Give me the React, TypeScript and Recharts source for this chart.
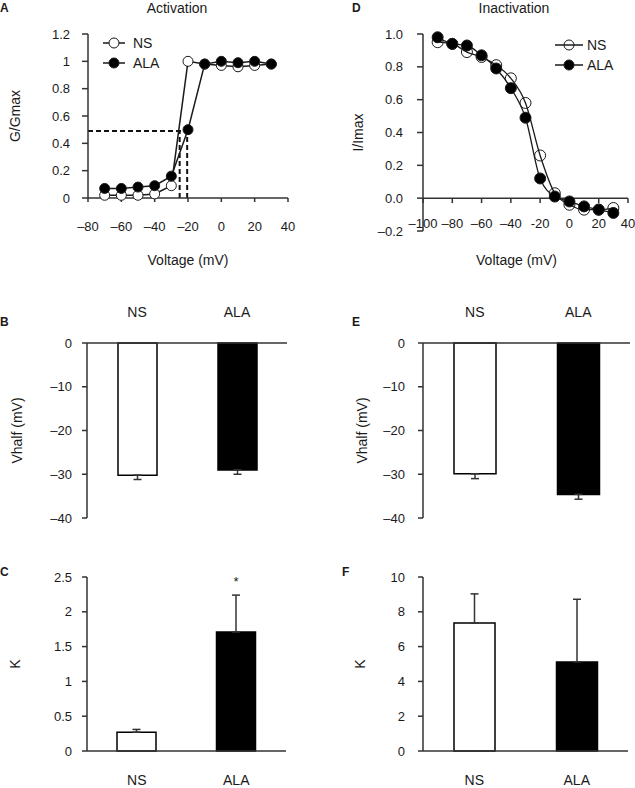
import React from "react"
import {
    LineChart, Line, BarChart, Bar, Cell, ErrorBar, LabelList,
    XAxis, YAxis, ReferenceLine, Legend,
} from "recharts"

const FONT = '"Liberation Sans", Arial, Helvetica, sans-serif'
const INK = "#1a1a1a"
const AXIS = "#333333"

// A: activation curve (G/Gmax)
const actVoltage = [-70, -60, -50, -40, -30, -20, -10, 0, 10, 20, 30]
const actNS = [0.02, 0.02, 0.02, 0.03, 0.09, 1.0, 0.98, 0.97, 0.96, 0.97, 0.98]
const actALA = [0.07, 0.07, 0.08, 0.09, 0.16, 0.5, 0.98, 1.0, 0.99, 1.0, 0.98]
const actXTicks = [-80, -60, -40, -20, 0, 20, 40]
const actYTicks = [0, 0.2, 0.4, 0.6, 0.8, 1, 1.2]
// half-activation guide lines
const actHalf = 0.49
const actHalfFrom = -80
const actVhalfNS = -25
const actVhalfALA = -20.5

// D: inactivation curve (I/Imax)
const inactVoltage = [-90, -80, -70, -60, -50, -40, -30, -20, -10, 0, 10, 20, 30]
const inactNS = [0.95, 0.94, 0.89, 0.86, 0.81, 0.73, 0.58, 0.26, 0.03, -0.04, -0.07, -0.07, -0.06]
const inactALA = [0.98, 0.94, 0.93, 0.87, 0.79, 0.67, 0.49, 0.12, 0.01, -0.02, -0.05, -0.07, -0.09]
const inactXTicks = [-100, -80, -60, -40, -20, 0, 20, 40]
const inactXLabels = ["\u2013100", "\u201380", "\u201360", "\u201340", "-20", "0", "20", "40"]
const inactYTicks = [-0.2, 0, 0.2, 0.4, 0.6, 0.8, 1.0]

// B, C, E, F: fitted parameters
const groups = ["NS", "ALA"]
const groupFill = ["#ffffff", "#000000"]
const vhalfAct = [-30.2, -29.0]
const vhalfActErr = [1.0, 1.0]
const kAct = [0.27, 1.71]
const kActErr = [0.04, 0.53]
const kActSig = ["", "*"]
const vhalfInact = [-29.9, -34.6]
const vhalfInactErr = [1.1, 1.1]
const kInact = [7.36, 5.12]
const kInactErr = [1.67, 3.6]

const vhalfTicks = [-40, -30, -20, -10, 0]
const kActTicks = [0, 0.5, 1, 1.5, 2, 2.5]
const kInactTicks = [0, 2, 4, 6, 8, 10]

const dash = (v: number) => (v < 0 ? "\u2013" + Math.abs(v) : String(v))

const actData = actVoltage.map((v, i) => ({ v, ns: actNS[i], ala: actALA[i] }))
const inactData = inactVoltage.map((v, i) => ({ v, ns: inactNS[i], ala: inactALA[i] }))

const barRows = (means: number[], errs: number[], sig?: string[]) =>
    groups.map((g, i) => ({
        g,
        val: means[i],
        err: means[i] < 0 ? [errs[i], 0] : [0, errs[i]],
        sig: sig ? sig[i] : "",
    }))

const tickStyle = { fill: INK, fontSize: 13 }

function CurveLegend({ payload, lineLen, fills, gap }: any) {
    // keep NS above ALA, as in the figure
    const items = [...(payload || [])].sort((a: any, b: any) => groups.indexOf(a.value) - groups.indexOf(b.value))
    return (
        <div style={{ fontFamily: FONT, fontSize: 14, color: INK }}>
            {items.map((p: any) => (
                <div key={p.value} style={{ display: "flex", alignItems: "center", height: 20 }}>
                    <svg width={lineLen} height={14}>
                        <line x1={0} y1={7} x2={lineLen} y2={7} stroke={INK} strokeWidth={1.5} />
                        <circle cx={lineLen / 2} cy={7} r={5} fill={fills[p.value]} stroke={INK} strokeWidth={1} />
                    </svg>
                    <span style={{ marginLeft: gap }}>{p.value}</span>
                </div>
            ))}
        </div>
    )
}

function InactTick({ x, y, payload }: any) {
    const label = inactXLabels[inactXTicks.indexOf(payload.value)]
    return (
        <text x={x} y={y - 8} dy="0.35em" textAnchor="middle" fontSize={13} fill={INK}>
            {label}
        </text>
    )
}

function ParamBars({ rows, domain, ticks, top, yLabel, labelOffset, yAxisWidth, tickMargin, barSize, width, height, margin, fmt }: any) {
    return (
        <BarChart width={width} height={height} data={rows} margin={margin}>
            <XAxis
                dataKey="g"
                orientation={top ? "top" : "bottom"}
                height={top ? 40 : 37}
                interval={0}
                tickLine={false}
                tickSize={0}
                tickMargin={top ? 26 : 24}
                tick={{ fill: INK, fontSize: 14 }}
                stroke={AXIS}
                strokeWidth={1.5}
            />
            <YAxis
                width={yAxisWidth}
                domain={domain}
                ticks={ticks}
                interval={0}
                tickFormatter={fmt}
                tickSize={5}
                tickMargin={tickMargin}
                tick={tickStyle}
                stroke={AXIS}
                strokeWidth={1.5}
                label={{ value: yLabel, angle: -90, position: "insideLeft", offset: labelOffset, fill: INK, fontSize: 14, style: { textAnchor: "middle" } }}
            />
            <Bar dataKey="val" barSize={barSize} stroke="#000" strokeWidth={1.5} isAnimationActive={false}>
                {rows.map((r: any, i: number) => (
                    <Cell key={r.g} fill={groupFill[i]} />
                ))}
                <ErrorBar dataKey="err" direction="y" width={4} stroke="#333" strokeWidth={1.5} isAnimationActive={false} />
                <LabelList dataKey="sig" position="top" offset={46} fill={INK} fontSize={13} />
            </Bar>
        </BarChart>
    )
}

const abs = (left: number, top: number): React.CSSProperties => ({ position: "absolute", left, top })

export default function App() {
    const letter = (t: string, left: number, top: number) => (
        <div style={{ ...abs(left, top), fontWeight: "bold", fontSize: 12, lineHeight: "14px" }}>{t}</div>
    )
    const title = (t: string, cx: number) => (
        <div style={{ ...abs(cx - 60, 0), width: 120, textAlign: "center", fontSize: 14, lineHeight: "16px" }}>{t}</div>
    )
    return (
        <div style={{ position: "absolute", left: 0, top: 0, width: 635, height: 788, background: "#fff", fontFamily: FONT, color: INK, overflow: "hidden" }}>
            {letter("A", 0, 1)}
            {letter("D", 352, 1)}
            {letter("B", 0, 315)}
            {letter("E", 352, 315)}
            {letter("C", 0, 565)}
            {letter("F", 342, 565)}
            {title("Activation", 177)}
            {title("Inactivation", 514)}

            {/* A */}
            <div style={abs(0, 0)}>
                <LineChart width={315} height={275} data={actData} margin={{ top: 34, right: 27, bottom: 7, left: 0 }}>
                    <XAxis
                        dataKey="v"
                        type="number"
                        domain={[-80, 40]}
                        ticks={actXTicks}
                        interval={0}
                        tickFormatter={dash}
                        height={70}
                        tickSize={4}
                        tickMargin={20}
                        tick={tickStyle}
                        stroke={AXIS}
                        strokeWidth={1.5}
                        label={{ value: "Voltage (mV)", position: "insideBottom", offset: 3, fill: INK, fontSize: 14 }}
                    />
                    <YAxis
                        width={88}
                        domain={[0, 1.2]}
                        ticks={actYTicks}
                        interval={0}
                        tickSize={6}
                        tickMargin={12}
                        tick={tickStyle}
                        stroke={AXIS}
                        strokeWidth={1.5}
                        label={{ value: "G/Gmax", angle: -90, position: "insideLeft", offset: 15, fill: INK, fontSize: 14, style: { textAnchor: "middle" } }}
                    />
                    <ReferenceLine segment={[{ x: actHalfFrom, y: actHalf }, { x: actVhalfALA, y: actHalf }]} stroke="#111" strokeWidth={2} strokeDasharray="5 3" />
                    <ReferenceLine segment={[{ x: actVhalfNS, y: 0 }, { x: actVhalfNS, y: actHalf }]} stroke="#111" strokeWidth={2} strokeDasharray="5 3" />
                    <ReferenceLine segment={[{ x: actVhalfALA, y: 0 }, { x: actVhalfALA, y: actHalf }]} stroke="#111" strokeWidth={2} strokeDasharray="5 3" />
                    <Line dataKey="ns" name="NS" stroke={INK} strokeWidth={1.5} dot={{ r: 5, fill: "#fff", stroke: INK, strokeWidth: 1 }} activeDot={false} isAnimationActive={false} />
                    <Line dataKey="ala" name="ALA" stroke={INK} strokeWidth={1.5} dot={{ r: 5, fill: "#000", stroke: INK, strokeWidth: 1 }} activeDot={false} isAnimationActive={false} />
                    <Legend
                        layout="vertical"
                        align="center"
                        verticalAlign="middle"
                        wrapperStyle={{ left: 103, top: 33, width: "auto" }}
                        content={<CurveLegend lineLen={22} gap={8} fills={{ NS: "#fff", ALA: "#000" }} />}
                    />
                </LineChart>
            </div>

            {/* D */}
            <div style={abs(315, 0)}>
                <LineChart width={320} height={275} data={inactData} margin={{ top: 34, right: 7, bottom: 7, left: 0 }}>
                    <XAxis
                        dataKey="v"
                        type="number"
                        domain={[-100, 40]}
                        ticks={inactXTicks}
                        interval={0}
                        height={37}
                        axisLine={false}
                        tickLine={false}
                        tickSize={0}
                        tickMargin={0}
                        tick={<InactTick />}
                        label={{ value: "Voltage (mV)", position: "insideBottom", offset: 3, dx: -9, fill: INK, fontSize: 14 }}
                    />
                    <YAxis
                        width={108}
                        domain={[-0.2, 1.0]}
                        ticks={inactYTicks}
                        interval={0}
                        tickFormatter={(v: number) => (v < 0 ? "\u2013" + Math.abs(v).toFixed(1) : v.toFixed(1))}
                        tickSize={6}
                        tickMargin={14}
                        tick={tickStyle}
                        stroke={AXIS}
                        strokeWidth={1.5}
                        label={{ value: "I/Imax", angle: -90, position: "insideLeft", offset: 43, fill: INK, fontSize: 14, style: { textAnchor: "middle" } }}
                    />
                    <ReferenceLine y={0} stroke={AXIS} strokeWidth={1.5} />
                    {inactXTicks.map((t) => (
                        <ReferenceLine key={t} segment={[{ x: t, y: 0 }, { x: t, y: -0.03 }]} stroke={AXIS} strokeWidth={1.5} />
                    ))}
                    <Line type="monotone" dataKey="ns" name="NS" stroke={INK} strokeWidth={1.3} dot={{ r: 5.5, fill: "none", stroke: INK, strokeWidth: 1 }} activeDot={false} isAnimationActive={false} />
                    <Line type="monotone" dataKey="ala" name="ALA" stroke={INK} strokeWidth={1.3} dot={{ r: 5.5, fill: "#000", stroke: INK, strokeWidth: 1 }} activeDot={false} isAnimationActive={false} />
                    <Legend
                        layout="vertical"
                        align="center"
                        verticalAlign="middle"
                        wrapperStyle={{ left: 240, top: 35, width: "auto" }}
                        content={<CurveLegend lineLen={28} gap={4} fills={{ NS: "none", ALA: "#000" }} />}
                    />
                </LineChart>
            </div>

            {/* B */}
            <div style={abs(0, 290)}>
                <ParamBars
                    rows={barRows(vhalfAct, vhalfActErr)}
                    domain={[-40, 0]} ticks={vhalfTicks} fmt={dash} top
                    yLabel="Vhalf (mV)" labelOffset={17} yAxisWidth={87} tickMargin={10} barSize={39}
                    width={315} height={240} margin={{ top: 13, right: 28, bottom: 12, left: 0 }}
                />
            </div>

            {/* E */}
            <div style={abs(315, 290)}>
                <ParamBars
                    rows={barRows(vhalfInact, vhalfInactErr)}
                    domain={[-40, 0]} ticks={vhalfTicks} fmt={dash} top
                    yLabel="Vhalf (mV)" labelOffset={47} yAxisWidth={108} tickMargin={13} barSize={42}
                    width={320} height={240} margin={{ top: 13, right: 5, bottom: 12, left: 0 }}
                />
            </div>

            {/* C */}
            <div style={abs(0, 560)}>
                <ParamBars
                    rows={barRows(kAct, kActErr, kActSig)}
                    domain={[0, 2.5]} ticks={kActTicks} fmt={String} top={false}
                    yLabel="K" labelOffset={15} yAxisWidth={87} tickMargin={10} barSize={39}
                    width={315} height={228} margin={{ top: 17, right: 29, bottom: 0, left: 0 }}
                />
            </div>

            {/* F */}
            <div style={abs(315, 560)}>
                <ParamBars
                    rows={barRows(kInact, kInactErr)}
                    domain={[0, 10]} ticks={kInactTicks} fmt={String} top={false}
                    yLabel="K" labelOffset={45} yAxisWidth={108} tickMargin={13} barSize={41}
                    width={320} height={228} margin={{ top: 17, right: 7, bottom: 0, left: 0 }}
                />
            </div>
        </div>
    )
}
